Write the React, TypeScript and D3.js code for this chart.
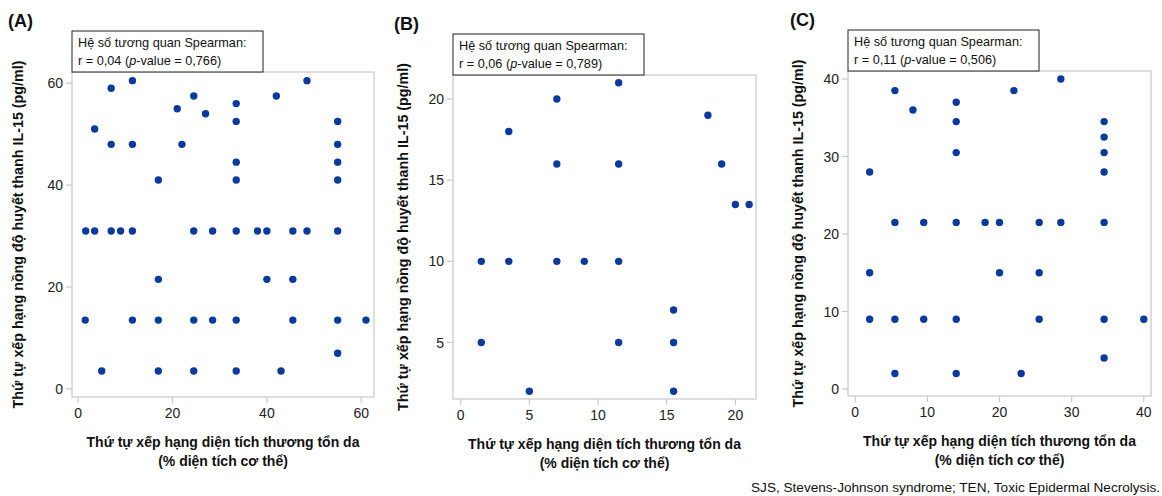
import React from "react";
import * as d3 from "d3";

// Panel A: rank of skin lesion area vs rank of IL-15
const areaA = [1.6, 3.5, 7, 9, 11.5, 3.5, 7, 7, 11.5, 11.5, 17, 21, 22, 24.5, 27, 24.5, 28.5, 33.5, 33.5, 33.5, 33.5, 33.5, 38, 40, 42, 45.5, 48.5, 48.5, 55, 55, 55, 55, 55, 17, 40, 45.5, 1.5, 11.5, 17, 24.5, 28.5, 33.5, 45.5, 55, 61, 55, 5, 17, 24.5, 33.5, 43];
const il15A = [31, 31, 31, 31, 31, 51, 59, 48, 60.5, 48, 41, 55, 48, 57.5, 54, 31, 31, 56, 52.5, 44.5, 41, 31, 31, 31, 57.5, 31, 60.5, 31, 52.5, 48, 44.5, 41, 31, 21.5, 21.5, 21.5, 13.5, 13.5, 13.5, 13.5, 13.5, 13.5, 13.5, 13.5, 13.5, 7, 3.5, 3.5, 3.5, 3.5, 3.5];

// Panel B
const areaB = [3.5, 7, 7, 11.5, 11.5, 18, 19, 20, 21, 1.5, 3.5, 7, 9, 11.5, 15.5, 1.5, 11.5, 15.5, 5, 15.5];
const il15B = [18, 20, 16, 21, 16, 19, 16, 13.5, 13.5, 10, 10, 10, 10, 10, 7, 5, 5, 5, 2, 2];

// Panel C
const areaC = [2, 5.5, 5.5, 8, 9.5, 14, 14, 14, 14, 18, 20, 22, 25.5, 28.5, 28.5, 34.5, 34.5, 34.5, 34.5, 34.5, 2, 20, 25.5, 2, 5.5, 9.5, 14, 25.5, 34.5, 40, 34.5, 5.5, 14, 23];
const il15C = [28, 38.5, 21.5, 36, 21.5, 37, 34.5, 30.5, 21.5, 21.5, 21.5, 38.5, 21.5, 40, 21.5, 34.5, 32.5, 30.5, 28, 21.5, 15, 15, 15, 9, 9, 9, 9, 9, 9, 9, 4, 2, 2, 2];

const ticksA = [0, 20, 40, 60];
const ticksBx = [0, 5, 10, 15, 20];
const ticksBy = [5, 10, 15, 20];
const ticksC = [0, 10, 20, 30, 40];

const labels = ["(A)", "(B)", "(C)"];
const stats = ["r = 0,04 (", "r = 0,06 (", "r = 0,11 ("];
const pvalues = ["0,766", "0,789", "0,506"];

const font = "'Liberation Sans', Arial, sans-serif";
const dotColor = "#0a3a9e";
const frameColor = "#c6c8cc";

type PanelProps = {
  xs: number[];
  ys: number[];
  frame: { l: number; r: number; t: number; b: number };
  xDomain: [number, number];
  yDomain: [number, number];
  xTicks: number[];
  yTicks: number[];
  idx: number;
  labelX: number;
  yTitleX: number;
};

function Panel(p: PanelProps) {
  const { frame } = p;
  const x = d3.scaleLinear().domain(p.xDomain).range([frame.l, frame.r]);
  const y = d3.scaleLinear().domain(p.yDomain).range([frame.b, frame.t]);
  const cx = (frame.l + frame.r) / 2;
  const cy = (frame.t + frame.b) / 2;
  const boxH = 41;
  return (
    <g fontFamily={font}>
      <text x={p.labelX} y={frame.t - 45} fontSize={18} fontWeight="bold" fill="#111">
        {labels[p.idx]}
      </text>
      <rect
        x={frame.l}
        y={frame.t}
        width={frame.r - frame.l}
        height={frame.b - frame.t}
        fill="none"
        stroke={frameColor}
        strokeWidth={1.2}
      />
      {p.yTicks.map((t) => (
        <g key={"y" + t}>
          <line x1={frame.l - 6} x2={frame.l} y1={y(t)} y2={y(t)} stroke={frameColor} strokeWidth={1.2} />
          <text x={frame.l - 9} y={y(t)} dy="0.36em" textAnchor="end" fontSize={14} fill="#222">
            {t}
          </text>
        </g>
      ))}
      {p.xTicks.map((t) => (
        <g key={"x" + t}>
          <line x1={x(t)} x2={x(t)} y1={frame.b} y2={frame.b + 6} stroke={frameColor} strokeWidth={1.2} />
          <text x={x(t)} y={frame.b + 21} textAnchor="middle" fontSize={14} fill="#222">
            {t}
          </text>
        </g>
      ))}
      {p.xs.map((v, i) => (
        <circle key={i} cx={x(v)} cy={y(p.ys[i])} r={3.7} fill={dotColor} />
      ))}
      <rect x={frame.l} y={frame.t - boxH} width={191} height={boxH} fill="#fff" stroke="#222" strokeWidth={1} />
      <text x={frame.l + 6} y={frame.t - boxH + 16} fontSize={12.7} fill="#111">
        Hệ số tương quan Spearman:
      </text>
      <text x={frame.l + 6} y={frame.t - boxH + 34} fontSize={12.7} fill="#111">
        {stats[p.idx]}
        <tspan fontStyle="italic">p</tspan>
        {"-value = " + pvalues[p.idx] + ")"}
      </text>
      <text
        transform={`translate(${p.yTitleX + 5},${cy}) rotate(-90)`}
        textAnchor="middle"
        fontSize={14.3}
        fontWeight="bold"
        fill="#111"
      >
        Thứ tự xếp hạng nồng độ huyết thanh IL-15 (pg/ml)
      </text>
      <text x={cx} y={frame.b + 50} textAnchor="middle" fontSize={14} fontWeight="bold" fill="#111">
        Thứ tự xếp hạng diện tích thương tổn da
      </text>
      <text x={cx} y={frame.b + 69} textAnchor="middle" fontSize={14} fontWeight="bold" fill="#111">
        (% diện tích cơ thể)
      </text>
    </g>
  );
}

export default function App() {
  return (
    <svg
      width={1162}
      height={496}
      style={{ position: "absolute", left: 0, top: 0, background: "#fff" }}
    >
      <Panel
        xs={areaA}
        ys={il15A}
        frame={{ l: 72, r: 374, t: 72, b: 397 }}
        xDomain={[-1.3, 62.7]}
        yDomain={[-1.6, 62.2]}
        xTicks={ticksA}
        yTicks={ticksA}
        idx={0}
        labelX={8}
        yTitleX={18}
      />
      <Panel
        xs={areaB}
        ys={il15B}
        frame={{ l: 453, r: 756, t: 75, b: 399 }}
        xDomain={[-0.56, 21.5]}
        yDomain={[1.52, 21.48]}
        xTicks={ticksBx}
        yTicks={ticksBy}
        idx={1}
        labelX={394}
        yTitleX={403}
      />
      <Panel
        xs={areaC}
        ys={il15C}
        frame={{ l: 848, r: 1151, t: 71, b: 396 }}
        xDomain={[-1.0, 41.0]}
        yDomain={[-0.9, 41.03]}
        xTicks={ticksC}
        yTicks={ticksC}
        idx={2}
        labelX={790}
        yTitleX={798}
      />
      <text x={1160} y={492} textAnchor="end" fontSize={13.6} fontFamily={font} fill="#111">
        SJS, Stevens-Johnson syndrome; TEN, Toxic Epidermal Necrolysis.
      </text>
    </svg>
  );
}
